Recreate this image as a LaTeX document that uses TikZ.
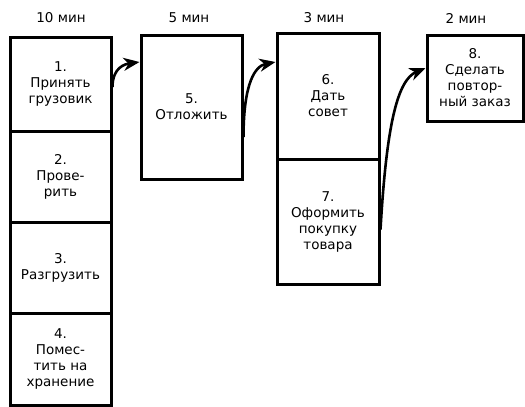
\documentclass[tikz,border=0pt]{standalone}
\usepackage{fontspec}
\setmainfont{DejaVu Sans}
\usetikzlibrary{arrows.meta}
\begin{document}
\begin{tikzpicture}[x=1pt,y=-1pt,
  stepbox/.style={draw=black, line width=3pt, fill=white, align=center,
    inner sep=0pt, font=\fontsize{13.5}{16}\selectfont},
  head/.style={font=\fontsize{13.5}{16}\selectfont},
  flow/.style={line width=2.6pt, -{Stealth[length=16pt,width=13pt,inset=5pt]}}]
\useasboundingbox (0,0) rectangle (525,407);

% time headers
\node[head] (h1) at (61,18) {10 мин};
\node[head] (h2) at (189,18) {5 мин};
\node[head] (h3) at (324,18) {3 мин};
\node[head] (h4) at (466,18) {2 мин};

% column 1
\node[stepbox, minimum width=101pt, minimum height=94pt] (b1) at (60.5,84) {1.\\Принять\\грузовик};
\node[stepbox, minimum width=101pt, minimum height=91pt] (b2) at (60.5,176.5) {2.\\Прове-\\рить};
\node[stepbox, minimum width=101pt, minimum height=91pt] (b3) at (60.5,267.5) {3.\\Разгрузить};
\node[stepbox, minimum width=101pt, minimum height=92pt] (b4) at (60.5,359) {4.\\Помес-\\тить на\\хранение};

% column 2
\node[stepbox, minimum width=101pt, minimum height=144pt] (b5) at (191.5,107) {5.\\Отложить};

% column 3
\node[stepbox, minimum width=102pt, minimum height=126pt] (b6) at (328,96) {6.\\Дать\\совет};
\node[stepbox, minimum width=102pt, minimum height=125pt] (b7) at (328,221.5) {7.\\Оформить\\покупку\\товара};

% column 4
\node[stepbox, minimum width=96pt, minimum height=86pt] (b8) at (475,78) {8.\\Сделать\\повтор-\\ный заказ};

% connectors
\coordinate (s1) at ([yshift=-3pt]b1.east);
\coordinate (e1) at ([yshift=45pt]b5.west);
\coordinate (s2) at ([yshift=-30pt]b5.east);
\coordinate (e2) at ([yshift=34pt]b6.west);
\coordinate (s3) at ([yshift=-8pt]b7.east);
\coordinate (e3) at ([yshift=10pt]b8.west);
\draw[flow] (s1) .. controls +(0,-20) and +(-14,2) .. (e1);
\draw[flow] (s2) .. controls +(0,-55) and +(-20,4) .. (e2);
\draw[flow] (s3) .. controls +(6,-105) and +(-28,12) .. (e3);
\end{tikzpicture}
\end{document}
